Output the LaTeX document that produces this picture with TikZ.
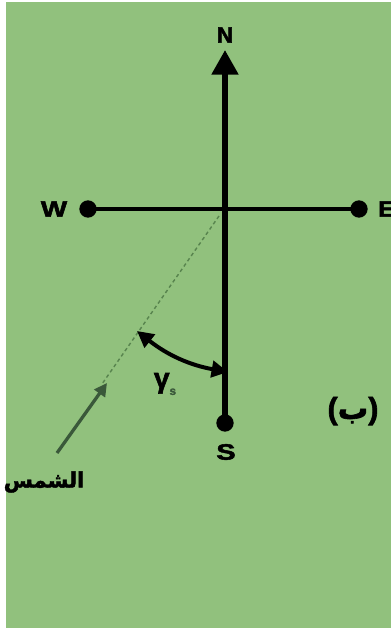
\documentclass[tikz,border=0pt]{standalone}
\usepackage{fontspec}
\setmainfont{Liberation Sans}
\newfontfamily\heavyfont[FakeBold=2]{Liberation Sans Bold}
\newfontfamily\arabicfont[Script=Arabic,FakeBold=2]{DejaVu Sans Bold}
\TeXXeTstate=1
\usetikzlibrary{arrows.meta}
\definecolor{bg}{RGB}{145,193,125}
\definecolor{dashc}{RGB}{88,132,78}
\definecolor{sunc}{RGB}{58,88,58}
\begin{document}
\begin{tikzpicture}[x=0.03cm,y=-0.03cm,
  lbl/.style={font=\heavyfont\fontsize{19}{22}\selectfont, inner sep=0pt},
  dotnode/.style={circle, fill=black, minimum size=0.52cm, inner sep=0pt},
  axisline/.style={line width=4pt},
  arlbl/.style={font=\arabicfont, inner sep=0pt}]
\useasboundingbox (0,0) rectangle (391,630);
\fill[white] (0,0) rectangle (391,630);
\fill[bg] (6,2) rectangle (391,628);
\clip (0,0) rectangle (391,630);
% points
\coordinate (O) at (225,209);
\coordinate (Ntip) at (225,50);
\node[dotnode] (Wd) at (88,209) {};
\node[dotnode] (Ed) at (359,209) {};
\node[dotnode] (Sd) at (225,423) {};
% labels
\node[lbl] (Nl) at (225,35) {N};
\node[lbl, xscale=1.25] (Wl) at (54,209) {W};
\node[lbl, xscale=1.2] (El) at (387,209) {E};
\node[lbl, xscale=1.3] (Sl) at (226,452) {S};
% axes
\draw[axisline] (Wd.center) -- (Ed.center);
\draw[axisline, line width=4.8pt, -{Triangle[length=21pt,width=22pt]}] (Sd.center) -- (Ntip);
% sun direction (dashed)
\coordinate (d1) at (219,216);
\coordinate (d2) at (102,384);
\draw[dashc, line width=1.2pt, dash pattern=on 3pt off 2.5pt] (d1) -- (d2);
% angle arrow
\coordinate (g1) at (137,331);
\coordinate (g2) at (228,372);
\draw[line width=3.4pt, {Triangle[length=14pt,width=14pt]}-{Triangle[length=14pt,width=14pt]}] (g1) to[bend right=14] (g2);
\node[font=\heavyfont\fontsize{24}{26}\selectfont, inner sep=0pt] (gam) at (165,384) {γ\raisebox{-6pt}{\fontsize{10}{10}\selectfont\color{sunc}s}};
% sun label and arrow
\node[arlbl, font=\arabicfont\fontsize{18}{20}\selectfont] (sun) at (44,482) {\beginR الشمس\endR};
\coordinate (sa) at (57,453);
\coordinate (sb) at (107,383);
\draw[sunc, line width=2.8pt, -{Triangle[length=11pt,width=11pt]}] (sa) -- (sb);
% figure label
\node[font=\heavyfont\fontsize{26}{28}\selectfont, inner sep=0pt] (fig) at (353,411) {({\arabicfont\beginR ب\endR})};
\end{tikzpicture}
\end{document}
